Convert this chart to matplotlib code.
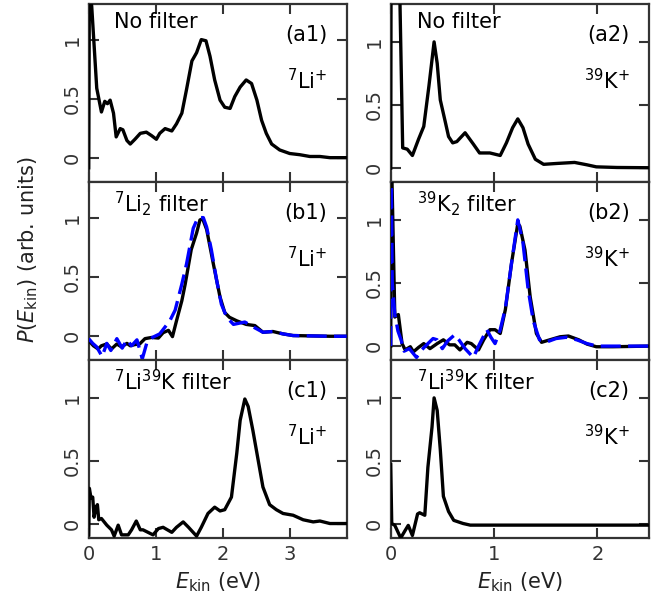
import matplotlib
matplotlib.use("Agg")
import matplotlib.pyplot as plt
import numpy as np

# ---- kinetic-energy distributions (E in eV, P normalised) ----
# (a1) 7Li+, no filter
a1_E = [0.0, 0.01, 0.045, 0.12, 0.19, 0.24, 0.28, 0.32, 0.37, 0.41, 0.47, 0.51, 0.57, 0.62,
        0.69, 0.77, 0.86, 0.94, 1.01, 1.06, 1.14, 1.24, 1.31, 1.39, 1.46, 1.54, 1.61, 1.68,
        1.75, 1.81, 1.88, 1.96, 2.03, 2.11, 2.18, 2.26, 2.35, 2.43, 2.51, 2.58, 2.65, 2.73,
        2.85, 3.0, 3.15, 3.3, 3.45, 3.6, 3.85]
a1_P = [-0.08, 1.45, 1.28, 0.59, 0.39, 0.48, 0.46, 0.49, 0.38, 0.18, 0.25, 0.24, 0.15, 0.12,
        0.16, 0.21, 0.22, 0.19, 0.16, 0.21, 0.25, 0.23, 0.29, 0.38, 0.58, 0.82, 0.89, 1.0,
        0.99, 0.86, 0.66, 0.49, 0.43, 0.42, 0.52, 0.60, 0.66, 0.63, 0.49, 0.32, 0.21, 0.12,
        0.07, 0.04, 0.03, 0.015, 0.015, 0.005, 0.005]

# (a2) 39K+, no filter
a2_E = [0.0, 0.005, 0.06, 0.09, 0.116, 0.16, 0.21, 0.27, 0.32, 0.37, 0.42, 0.45, 0.48, 0.53,
        0.56, 0.60, 0.64, 0.72, 0.80, 0.86, 0.96, 1.06, 1.12, 1.18, 1.23, 1.28, 1.33, 1.40,
        1.48, 1.61, 1.78, 1.90, 1.99, 2.19, 2.5]
a2_P = [0.0, 2.5, 2.5, 1.3, 0.16, 0.15, 0.10, 0.23, 0.33, 0.65, 1.0, 0.83, 0.54, 0.36,
        0.25, 0.20, 0.21, 0.28, 0.19, 0.12, 0.12, 0.10, 0.20, 0.32, 0.39, 0.32, 0.19, 0.07,
        0.03, 0.037, 0.045, 0.026, 0.01, 0.005, 0.003]

# (b1) 7Li+, 7Li2 filter: measurement and simulation
b1_E = [0.0, 0.07, 0.14, 0.19, 0.27, 0.34, 0.42, 0.49, 0.57, 0.62, 0.69, 0.76, 0.84, 0.94,
        1.04, 1.11, 1.19, 1.25, 1.31, 1.39, 1.44, 1.53, 1.61, 1.66, 1.70, 1.76, 1.86, 1.96,
        2.03, 2.10, 2.21, 2.35, 2.48, 2.60, 2.75, 2.90, 3.05, 3.6, 3.85]
b1_P = [-0.036, -0.08, -0.107, -0.08, -0.065, -0.107, -0.065, -0.09, -0.06, -0.08, -0.07,
        -0.065, -0.02, -0.01, -0.015, 0.03, 0.05, -0.003, 0.13, 0.30, 0.44, 0.73, 0.87, 0.98,
        0.99, 0.90, 0.61, 0.33, 0.20, 0.16, 0.13, 0.10, 0.09, 0.034, 0.04, 0.02, 0.006, 0.0, 0.0]
b1_sim_E = [0.0, 0.06, 0.12, 0.20, 0.27, 0.33, 0.42, 0.50, 0.57, 0.64, 0.72, 0.80, 0.87,
            0.95, 1.06, 1.21, 1.29, 1.39, 1.46, 1.56, 1.63, 1.71, 1.76, 1.83, 1.91, 1.98,
            2.06, 2.16, 2.33, 2.45, 2.60, 2.75, 2.90, 3.05, 3.6, 3.85]
b1_sim_P = [-0.02, -0.06, -0.09, -0.17, -0.06, -0.12, -0.02, -0.10, -0.03, -0.08, -0.03,
            -0.19, -0.05, -0.01, 0.02, 0.13, 0.22, 0.44, 0.61, 0.91, 1.0, 1.0, 0.92, 0.73,
            0.47, 0.27, 0.16, 0.10, 0.12, 0.08, 0.034, 0.04, 0.02, 0.006, 0.0, 0.0]

# (b2) 39K+, 39K2 filter: measurement and simulation
b2_E = [0.0, 0.005, 0.04, 0.074, 0.11, 0.14, 0.19, 0.22, 0.27, 0.32, 0.38, 0.45, 0.51, 0.57,
        0.62, 0.67, 0.74, 0.78, 0.85, 0.90, 0.96, 1.01, 1.06, 1.11, 1.17, 1.23, 1.25, 1.30,
        1.35, 1.41, 1.46, 1.54, 1.64, 1.72, 1.82, 1.90, 1.99, 2.15, 2.5]
b2_P = [0.0, 1.6, 0.23, 0.25, 0.02, -0.03, -0.005, -0.045, -0.01, 0.02, -0.02, 0.02, 0.05,
        0.01, 0.01, -0.03, 0.03, 0.02, -0.03, 0.05, 0.13, 0.13, 0.10, 0.29, 0.66, 0.97, 0.95,
        0.76, 0.39, 0.10, 0.03, 0.05, 0.074, 0.08, 0.05, 0.016, -0.005, -0.005, 0.0]
b2_sim_E = [0.0, 0.003, 0.015, 0.04, 0.07, 0.10, 0.13, 0.18, 0.25, 0.30, 0.36, 0.41, 0.45,
            0.50, 0.55, 0.62, 0.66, 0.72, 0.80, 0.85, 0.93, 0.97, 1.01, 1.06, 1.11, 1.17,
            1.23, 1.28, 1.33, 1.38, 1.44, 1.50, 1.60, 1.70, 1.80, 1.90, 2.0, 2.5]
b2_sim_P = [0.0, 1.6, 0.5, 0.25, 0.12, 0.05, -0.04, -0.02, -0.09, -0.03, 0.02, 0.06, 0.05,
            -0.02, 0.04, 0.09, 0.05, -0.02, -0.09, 0.0, 0.13, 0.07, 0.02, 0.13, 0.30, 0.66,
            1.0, 0.82, 0.45, 0.20, 0.05, 0.03, 0.06, 0.07, 0.05, 0.02, 0.0, 0.0]

# (c1) 7Li+, 7Li39K filter
c1_E = [0.0, 0.01, 0.035, 0.06, 0.08, 0.11, 0.13, 0.15, 0.19, 0.27, 0.34, 0.38, 0.44, 0.49,
        0.59, 0.64, 0.71, 0.77, 0.81, 0.96, 1.04, 1.11, 1.24, 1.31, 1.41, 1.49, 1.61, 1.68,
        1.78, 1.88, 1.96, 2.03, 2.13, 2.21, 2.26, 2.33, 2.38, 2.45, 2.53, 2.60, 2.70, 2.80,
        2.90, 3.05, 3.2, 3.35, 3.45, 3.6, 3.85]
c1_P = [-0.09, 0.28, 0.20, 0.21, 0.05, 0.13, 0.15, 0.03, 0.04, -0.013, -0.05, -0.10, -0.013,
        -0.09, -0.09, -0.05, 0.02, -0.05, -0.05, -0.09, -0.04, -0.03, -0.07, -0.03, 0.013,
        -0.03, -0.10, -0.03, 0.08, 0.13, 0.10, 0.11, 0.21, 0.56, 0.82, 0.99, 0.93, 0.74, 0.50,
        0.29, 0.15, 0.11, 0.08, 0.066, 0.03, 0.013, 0.02, 0.0, 0.0]

# (c2) 39K+, 7Li39K filter
c2_E = [0.0, 0.01, 0.04, 0.097, 0.14, 0.17, 0.21, 0.26, 0.28, 0.33, 0.36, 0.40, 0.42, 0.45,
        0.48, 0.51, 0.56, 0.61, 0.70, 0.77, 2.5]
c2_P = [0.47, 0.005, -0.01, -0.11, -0.05, -0.01, -0.09, 0.08, 0.09, 0.07, 0.45, 0.77, 1.0,
        0.90, 0.59, 0.22, 0.10, 0.03, 0.005, -0.008, -0.008]

filter_labels = ["No filter", r"$^{7}$Li$_{2}$ filter", r"$^{7}$Li$^{39}$K filter"]
right_filter_labels = ["No filter", r"$^{39}$K$_{2}$ filter", r"$^{7}$Li$^{39}$K filter"]
ion_labels = [r"$^{7}$Li$^{+}$", r"$^{39}$K$^{+}$"]
panel_tags = [["(a1)", "(a2)"], ["(b1)", "(b2)"], ["(c1)", "(c2)"]]

plt.rcParams["font.family"] = ["DejaVu Sans"]
plt.rcParams["mathtext.fontset"] = "dejavusans"

W, H = 659, 606
fig = plt.figure(figsize=(W / 100, H / 100), dpi=100)

col_left = [88.7, 390.7]
col_width = [258.0, 258.3]
row_top = [4, 182, 360]
row_h = 178
xlims = [(0, 3.85), (0, 2.5)]
ylims = [[(-0.2, 1.3), (-0.11, 1.3)],
         [(-0.2, 1.3), (-0.11, 1.3)],
         [(-0.115, 1.3), (-0.11, 1.3)]]

meas = [[(a1_E, a1_P), (a2_E, a2_P)],
        [(b1_E, b1_P), (b2_E, b2_P)],
        [(c1_E, c1_P), (c2_E, c2_P)]]
sims = {(1, 0): (b1_sim_E, b1_sim_P), (1, 1): (b2_sim_E, b2_sim_P)}

spine_c = "#333333"
for r in range(3):
    for c in range(2):
        ax = fig.add_axes([col_left[c] / W, 1 - (row_top[r] + row_h) / H,
                           col_width[c] / W, row_h / H])
        E, P = meas[r][c]
        ax.plot(E, P, color="black", lw=2.4, solid_joinstyle="round", zorder=3)
        if (r, c) in sims:
            sE, sP = sims[(r, c)]
            ax.plot(sE, sP, color="#0000ff", lw=2.4, dashes=(6, 2.2), zorder=4)
        ax.set_xlim(*xlims[c])
        ax.set_ylim(*ylims[r][c])
        ax.set_yticks([0, 0.5, 1])
        ax.set_yticklabels(["0", "0.5", "1"], rotation=90, va="center")
        ax.set_xticks(range(0, 4) if c == 0 else range(0, 3))
        ax.tick_params(direction="in", top=True, right=True, length=7, width=1.5,
                       colors=spine_c, labelsize=14, labelcolor="#333333", pad=5)
        if r < 2:
            ax.tick_params(labelbottom=False)
        else:
            ax.set_xlabel(r"$E_{\mathrm{kin}}$ (eV)", fontsize=15, color="#222222",
                          labelpad=5)
        for s in ax.spines.values():
            s.set_color(spine_c)
            s.set_linewidth(1.6)

        flab = filter_labels[r] if c == 0 else right_filter_labels[r]
        ty = 0.9 if r == 0 else 0.88
        ax.text(0.10, ty, flab, transform=ax.transAxes, fontsize=15,
                ha="left", va="center")
        ax.text(0.925, 0.825, panel_tags[r][c], transform=ax.transAxes, fontsize=15,
                ha="right", va="center")
        ax.text(0.925, 0.57, ion_labels[c], transform=ax.transAxes, fontsize=15,
                ha="right", va="center")

fig.text(28 / W, 1 - 250 / H, r"$P(E_{\mathrm{kin}})$ (arb. units)", rotation=90,
         fontsize=15, ha="center", va="center", color="#222222")

fig.savefig("out.png", dpi=100)
